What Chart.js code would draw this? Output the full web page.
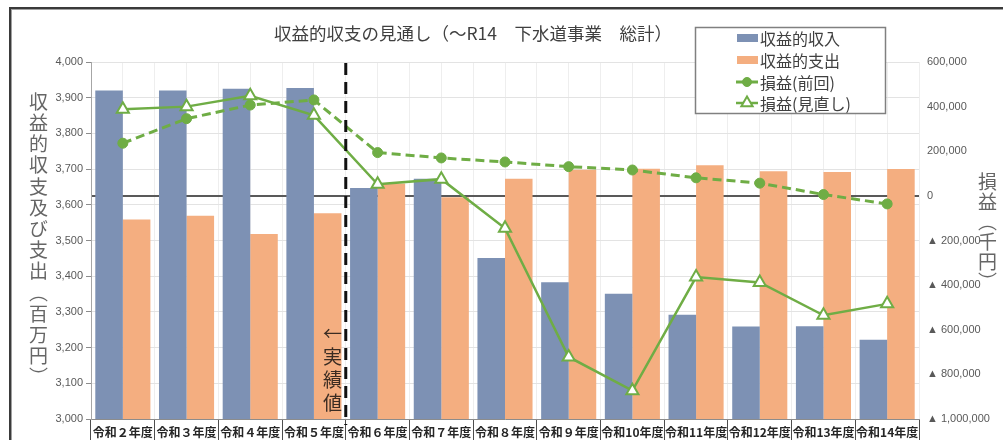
<!DOCTYPE html>
<html><head><meta charset="utf-8">
<script src="https://cdn.jsdelivr.net/npm/chart.js@4.4.1/dist/chart.umd.min.js"></script>
<style>
html,body{margin:0;padding:0;background:#fff;}
#wrap{position:relative;width:1003px;height:440px;overflow:hidden;background:#fff;}
#c{position:absolute;left:0;top:0;}
.frame{position:absolute;left:9px;top:7px;width:1100px;height:600px;border-left:2px solid #3a3a3a;border-top:2px solid #3a3a3a;box-shadow:inset 1px 1px 0 #a0a0a0;pointer-events:none;}
.title{position:absolute;left:0;width:946px;top:21px;text-align:center;font-family:"Noto Sans CJK JP";font-size:17.5px;line-height:24px;color:#404040;white-space:nowrap;}
.vt{position:absolute;writing-mode:vertical-rl;font-family:"Noto Sans CJK JP";color:#666;white-space:nowrap;}
</style></head>
<body>
<div id="wrap">
<canvas id="c" width="1003" height="440"></canvas>
<div class="frame"></div>
<div class="title">収益的収支の見通し（～R14　下水道事業　総計）</div>
<div class="vt" style="left:29px;top:92px;font-size:19px;line-height:19px;letter-spacing:2.2px;">収益的収支及び支出（百万円）</div>
<div class="vt" style="left:978px;top:172px;font-size:19px;line-height:19px;letter-spacing:1px;">損益（千円）</div>
<div class="vt" style="left:323px;top:324px;font-size:19px;line-height:19px;letter-spacing:4px;text-orientation:upright;color:#3b2c22;">←実績値</div>
</div>
<script>
const categories = ['令和２年度','令和３年度','令和４年度','令和５年度','令和６年度','令和７年度','令和８年度','令和９年度','令和10年度','令和11年度','令和12年度','令和13年度','令和14年度'];
const revenue = [3920, 3920, 3925, 3927, 3647, 3673, 3451, 3383, 3351, 3292, 3259, 3260, 3222];
const expense = [3559, 3569, 3518, 3576, 3660, 3621, 3673, 3698, 3701, 3711, 3694, 3692, 3700];
const profitPrev = [236000, 346000, 407000, 430000, 194000, 170000, 152000, 131000, 116000, 81000, 57000, 6000, -36000];
const profitRev = [388000, 400000, 449000, 361000, 52000, 75000, -145000, -722000, -873000, -364000, -388000, -535000, -484000];
const seriesNames = ['収益的収入','収益的支出','損益(前回)','損益(見直し)'];
const actualBoundaryIndex = 3; // line between 令和５年度 and 令和６年度

const BLUE = '#7D91B4';
const ORANGE = '#F4AE80';
const GREEN = '#6FAD45';
const tickFont = {family:'"Liberation Sans", Arial, sans-serif', size:11};

const boundaryPlugin = {
  id:'boundary',
  afterDatasetsDraw(chart){
    const x = chart.scales.x;
    const px = (x.getPixelForValue(actualBoundaryIndex) + x.getPixelForValue(actualBoundaryIndex+1))/2;
    const ctx = chart.ctx;
    ctx.save();
    ctx.strokeStyle = '#111';
    ctx.lineWidth = 3;
    ctx.setLineDash([12,7]);
    ctx.beginPath();
    ctx.moveTo(px, chart.chartArea.top+1);
    ctx.lineTo(px, chart.chartArea.bottom+6);
    ctx.stroke();
    ctx.restore();
  }
};

const legendPlugin = {
  id:'boxLegend',
  afterDraw(chart){
    const ctx = chart.ctx;
    const bx = 695.5, by = 27.5, bw = 190, bh = 86;
    ctx.save();
    ctx.fillStyle = '#fff';
    ctx.fillRect(bx, by, bw, bh);
    const rows = [38, 60, 82, 103];
    const byLabel = {};
    chart.data.datasets.forEach(d => byLabel[d.label] = d);
    seriesNames.forEach((name, i) => {
      const d = byLabel[name];
      const y = rows[i];
      if (d.type === 'bar') {
        ctx.fillStyle = d.backgroundColor;
        ctx.fillRect(737, y-4, 21, 8);
      } else {
        ctx.strokeStyle = d.borderColor;
        ctx.lineWidth = d.borderWidth;
        ctx.setLineDash(d.borderDash || []);
        ctx.beginPath(); ctx.moveTo(736, y); ctx.lineTo(758, y); ctx.stroke();
        ctx.setLineDash([]);
        ctx.lineWidth = d.pointBorderWidth || 1;
        ctx.fillStyle = d.pointBackgroundColor;
        ctx.strokeStyle = d.pointBorderColor;
        if (d.pointStyle === 'circle') {
          ctx.beginPath(); ctx.arc(747, y, 4.5, 0, Math.PI*2); ctx.fill(); ctx.stroke();
        } else {
          const r = 6.5;
          ctx.beginPath();
          ctx.moveTo(747, y - r);
          ctx.lineTo(747 + r*0.866, y + r*0.5);
          ctx.lineTo(747 - r*0.866, y + r*0.5);
          ctx.closePath(); ctx.fill(); ctx.stroke();
        }
      }
      ctx.fillStyle = '#404040';
      ctx.font = '16px "Noto Sans CJK JP"';
      ctx.textBaseline = 'middle';
      ctx.textAlign = 'left';
      ctx.fillText(name, 760, y+1);
    });
    ctx.strokeStyle = '#808080';
    ctx.lineWidth = 1.5;
    ctx.strokeRect(bx, by, bw, bh);
    ctx.restore();
  }
};

new Chart(document.getElementById('c'), {
  data: {
    labels: categories,
    datasets: [
      {type:'bar', label:seriesNames[0], data:revenue, yAxisID:'y', xAxisID:'x', backgroundColor:BLUE, order:2, categoryPercentage:0.865, barPercentage:1.0},
      {type:'bar', label:seriesNames[1], data:expense, yAxisID:'y', xAxisID:'x', backgroundColor:ORANGE, order:2, categoryPercentage:0.865, barPercentage:1.0},
      {type:'line', label:seriesNames[2], data:profitPrev, yAxisID:'y1', xAxisID:'x', borderColor:GREEN, backgroundColor:GREEN, borderWidth:3, borderDash:[9,5], pointStyle:'circle', pointRadius:5, pointBackgroundColor:GREEN, pointBorderColor:GREEN, pointBorderWidth:1, tension:0, order:1},
      {type:'line', label:seriesNames[3], data:profitRev, yAxisID:'y1', xAxisID:'x', borderColor:GREEN, backgroundColor:'#fff', borderWidth:2.5, pointStyle:'triangle', pointRadius:7, pointBackgroundColor:'#fff', pointBorderColor:GREEN, pointBorderWidth:2, tension:0, order:0}
    ]
  },
  options: {
    responsive:false,
    devicePixelRatio:1,
    animation:false,
    events:[],
    layout:{padding:{top:62,left:0,right:0,bottom:0}},
    plugins:{legend:{display:false}, title:{display:false}, tooltip:{enabled:false}},
    scales:{
      x:{
        type:'category', position:'bottom', offset:true,
        grid:{offset:true, drawOnChartArea:false, drawTicks:true, tickLength:24, color:'#4d4d4d', lineWidth:1},
        border:{display:true, color:'#8c8c8c', width:1},
        ticks:{padding:-18, autoSkip:false, maxRotation:0, minRotation:0, color:'#262626', font:{family:'"Noto Sans CJK JP"', size:12, weight:'bold'}},
        afterFit(s){ s.height = 21; }
      },
      x2:{
        type:'linear', position:'bottom', min:0, max:13,
        ticks:{display:false, stepSize:0.5},
        grid:{color:'#eeeeee', drawTicks:false, lineWidth:1},
        border:{display:false},
        afterFit(s){ s.height = 0; }
      },
      y:{
        position:'left', min:3000, max:4000,
        ticks:{stepSize:100, padding:3, color:'#595959', font:tickFont, callback:v=>v.toLocaleString('en-US')},
        grid:{color:'#e3e3e3', tickLength:5, tickColor:'#8c8c8c', lineWidth:1},
        border:{display:true, color:'#a6a6a6', width:1},
        afterFit(s){ s.width = 91; }
      },
      y1:{
        position:'right', min:-1000000, max:600000, z:1,
        ticks:{stepSize:200000, padding:8, color:'#595959', font:tickFont,
          callback:v=> v<0 ? '▲ ' + Math.abs(v).toLocaleString('en-US') : v.toLocaleString('en-US')},
        grid:{drawTicks:false,
          color:c=> (c.tick && c.tick.value===0) ? '#595959' : 'rgba(0,0,0,0)',
          lineWidth:c=> (c.tick && c.tick.value===0) ? 2 : 0},
        border:{display:false},
        afterFit(s){ s.width = 84; }
      }
    }
  },
  plugins:[boundaryPlugin, legendPlugin]
});
</script>
</body></html>
